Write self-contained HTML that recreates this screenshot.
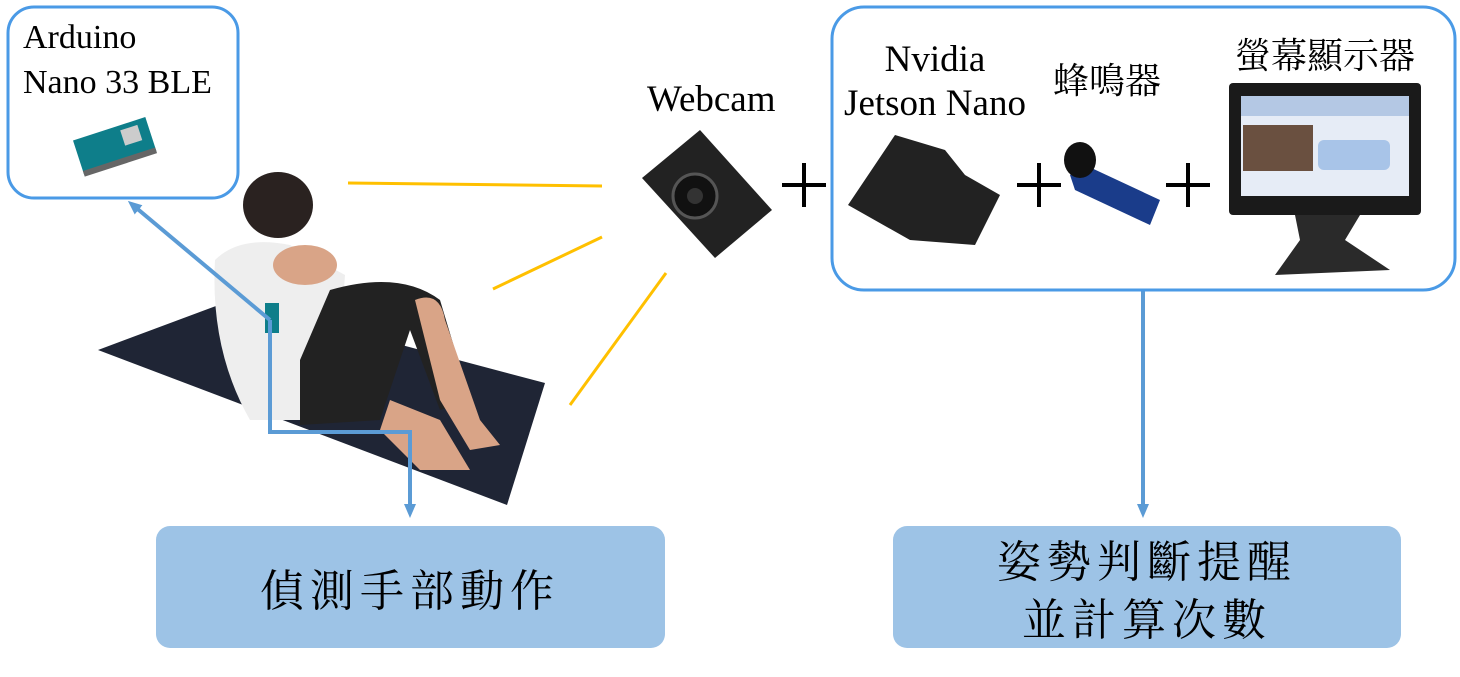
<!DOCTYPE html>
<html><head><meta charset="utf-8"><style>
html,body{margin:0;padding:0;background:#fff;}
svg{display:block}
.s{font-family:"Liberation Serif","Noto Serif CJK SC",serif;}
.c{font-family:"Liberation Serif","Noto Serif CJK SC","Noto Sans CJK TC",serif;}
</style></head><body>
<svg width="1460" height="677" viewBox="0 0 1460 677" xmlns="http://www.w3.org/2000/svg">
<defs>
<marker id="ar" markerWidth="16" markerHeight="16" refX="6" refY="8" orient="auto" markerUnits="userSpaceOnUse"><path d="M0,2 L14,8 L0,14 z" fill="#5b9bd5"/></marker>
</defs>
<rect x="8" y="7" width="230" height="191" rx="26" fill="#fff" stroke="#4a9ae6" stroke-width="3"/>
<text x="23" y="48" class="s" font-size="34">Arduino</text>
<text x="23" y="93" class="s" font-size="34">Nano 33 BLE</text>
<g transform="rotate(-18 115 150)"><rect x="78" y="128" width="76" height="36" fill="#0e7e8a"/><rect x="126" y="133" width="18" height="16" fill="#ccc"/><rect x="78" y="160" width="76" height="6" fill="#666"/></g>
<polygon points="98,350 232,300 545,383 507,505" fill="#1f2535"/>
<ellipse cx="278" cy="205" rx="35" ry="33" fill="#2a2220"/>
<path d="M215,260 Q240,235 290,245 L345,275 L340,345 L300,420 L250,420 Q210,350 215,260z" fill="#eeeeee"/>
<path d="M330,290 Q400,270 440,300 L470,400 L440,410 L410,330 L380,420 L300,425 L300,360z" fill="#222"/>
<path d="M415,300 Q440,290 445,320 L480,420 L500,445 L470,450 L440,400z" fill="#d9a487"/>
<path d="M390,400 L440,420 L470,470 L420,470 L380,430z" fill="#d9a487"/>
<ellipse cx="305" cy="265" rx="32" ry="20" fill="#d9a487"/>
<rect x="265" y="303" width="14" height="30" fill="#0e7e8a"/>
<g stroke="#ffc000" stroke-width="3"><line x1="348" y1="183" x2="602" y2="186"/><line x1="493" y1="289" x2="602" y2="237"/><line x1="570" y1="405" x2="666" y2="273"/></g>
<g stroke="#5b9bd5" stroke-width="4" fill="none">
<polyline points="270,320 270,432 410,432 410,510" marker-end="url(#ar)"/>
<line x1="270" y1="320" x2="134" y2="206" marker-end="url(#ar)"/>
<line x1="1143" y1="290" x2="1143" y2="510" marker-end="url(#ar)"/>
</g>
<text x="647" y="111" class="s" font-size="37">Webcam</text>
<polygon points="642,178 700,130 772,210 715,258" fill="#222"/>
<circle cx="695" cy="196" r="22" fill="#111" stroke="#555" stroke-width="3"/>
<circle cx="695" cy="196" r="8" fill="#333"/>
<rect x="832" y="7" width="623" height="283" rx="32" fill="#fff" stroke="#4a9ae6" stroke-width="3"/>
<g stroke="#000" stroke-width="4"><line x1="782" y1="185" x2="826" y2="185"/><line x1="804" y1="163" x2="804" y2="207"/>
<line x1="1017" y1="185" x2="1061" y2="185"/><line x1="1039" y1="163" x2="1039" y2="207"/>
<line x1="1166" y1="185" x2="1210" y2="185"/><line x1="1188" y1="163" x2="1188" y2="207"/></g>
<text x="935" y="71" class="s" font-size="37" text-anchor="middle">Nvidia</text>
<text x="935" y="115" class="s" font-size="37" text-anchor="middle">Jetson Nano</text>
<text x="1107" y="93" class="c" font-size="36" text-anchor="middle">蜂鳴器</text>
<text x="1325" y="68" class="c" font-size="36" text-anchor="middle">螢幕顯示器</text>
<polygon points="848,205 895,135 945,150 965,175 1000,195 975,245 910,240" fill="#222"/>
<polygon points="1070,175 1085,165 1160,200 1150,225 1075,190" fill="#1a3c8a"/>
<ellipse cx="1080" cy="160" rx="16" ry="18" fill="#111"/>
<rect x="1229" y="83" width="192" height="132" rx="4" fill="#1a1a1a"/>
<rect x="1241" y="96" width="168" height="100" fill="#e6ecf6"/>
<rect x="1241" y="96" width="168" height="20" fill="#b4c8e4"/>
<rect x="1243" y="125" width="70" height="46" fill="#6a5040"/>
<rect x="1318" y="140" width="72" height="30" rx="6" fill="#a8c4e8"/>
<polygon points="1295,215 1360,215 1345,240 1390,270 1275,275 1300,240" fill="#2a2a2a"/>
<rect x="156" y="526" width="509" height="122" rx="14" fill="#9dc3e6"/>
<text x="410" y="606" class="c" font-size="44" text-anchor="middle" letter-spacing="6">偵測手部動作</text>
<rect x="893" y="526" width="508" height="122" rx="14" fill="#9dc3e6"/>
<text x="1147" y="577" class="c" font-size="44" text-anchor="middle" letter-spacing="6">姿勢判斷提醒</text>
<text x="1147" y="635" class="c" font-size="44" text-anchor="middle" letter-spacing="6">並計算次數</text>
</svg>
</body></html>
